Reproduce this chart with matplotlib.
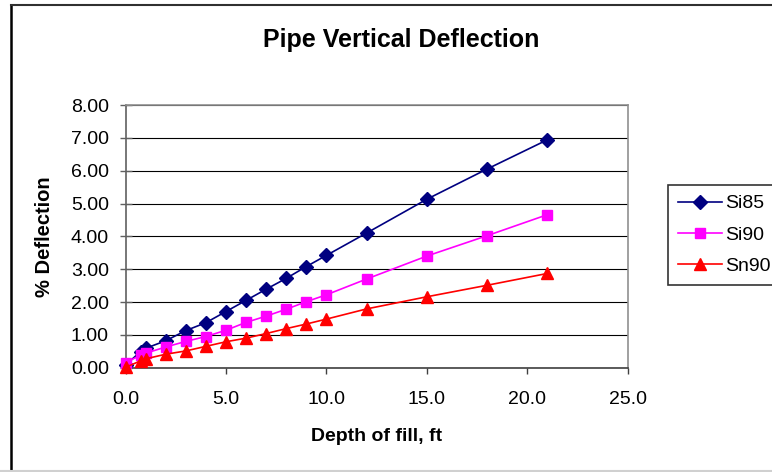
import matplotlib
matplotlib.use("Agg")
import matplotlib.pyplot as plt
from matplotlib.lines import Line2D

plt.rcParams['font.family'] = ['Liberation Sans', 'DejaVu Sans']

# depth of fill (ft) and % deflection
depth = [0, 0.75, 1, 2, 3, 4, 5, 6, 7, 8, 9, 10, 12, 15, 18, 21]
si85 = [0.08, 0.49, 0.59, 0.82, 1.13, 1.37, 1.71, 2.05, 2.39, 2.72, 3.08, 3.42, 4.10, 5.13, 6.05, 6.94]
si90 = [0.15, 0.38, 0.44, 0.63, 0.80, 0.95, 1.14, 1.38, 1.57, 1.78, 2.01, 2.22, 2.70, 3.40, 4.02, 4.66]
sn90 = [0.01, 0.21, 0.27, 0.41, 0.51, 0.65, 0.79, 0.90, 1.04, 1.19, 1.33, 1.48, 1.79, 2.16, 2.51, 2.87]

series = [('Si85', si85, '#000080', 'D', 7),
          ('Si90', si90, '#FF00FF', 's', 6.5),
          ('Sn90', sn90, '#FF0000', '^', 8)]

xticks = [0, 5, 10, 15, 20, 25]
yticks = [0, 1, 2, 3, 4, 5, 6, 7, 8]

W, H = 772, 472
fig = plt.figure(figsize=(W / 100, H / 100), dpi=100)
fig.patch.set_facecolor('white')
ax = fig.add_axes([125.5 / W, 1 - 367.7 / H, (627.7 - 125.5) / W, (367.7 - 105) / H])

for name, vals, col, mk, ms in series:
    ax.plot(depth, vals, color=col, lw=1.2, marker=mk, markersize=ms,
            markerfacecolor=col, markeredgecolor=col, label=name, clip_on=False, zorder=3)

ax.set_xlim(0, 25)
ax.set_ylim(0, 8)
ax.set_xticks(xticks)
ax.set_xticklabels([f'{v:.1f}' for v in xticks])
ax.set_yticks(yticks)
ax.set_yticklabels([f'{v:.2f}' for v in yticks])
ax.grid(axis='y', color='black', lw=0.8)
ax.set_axisbelow(True)

for s in ['top', 'right']:
    ax.spines[s].set_color('#909090')
    ax.spines[s].set_linewidth(1.2)
ax.spines['left'].set_color('#606060')
ax.spines['bottom'].set_color('#404040')
ax.spines['left'].set_linewidth(1.2)
ax.spines['bottom'].set_linewidth(1.2)

ax.tick_params(axis='x', direction='out', length=4.5, width=1, color='#404040', pad=12, labelsize=14)
ax.tick_params(axis='y', direction='inout', length=8, width=1, color='#606060', pad=8, labelsize=14)

ax.set_xlabel('Depth of fill, ft', fontsize=14, fontweight='bold', labelpad=15)
ax.set_ylabel('% Deflection', fontsize=14.5, fontweight='bold', labelpad=12)

fig.text(401 / W, 1 - 40 / H, 'Pipe Vertical Deflection', ha='center', va='center',
         fontsize=18, fontweight='bold')

leg = fig.legend(loc='upper left', bbox_to_anchor=(668 / W, 1 - 185 / H), fontsize=14,
                 frameon=True, fancybox=False, edgecolor='black', handlelength=2.3,
                 handletextpad=0.15, labelspacing=0.7, borderpad=0.5, borderaxespad=0)
leg.get_frame().set_linewidth(1.2)

# chart area border (cut off at the right)
fig.add_artist(Line2D([11 / W, 11 / W], [0, 1 - 4.5 / H], transform=fig.transFigure, color='black', lw=1.8))
fig.add_artist(Line2D([11 / W, 1], [1 - 4.5 / H, 1 - 4.5 / H], transform=fig.transFigure, color='#303030', lw=1.5))
fig.add_artist(Line2D([0, 1], [1 - 471 / H, 1 - 471 / H], transform=fig.transFigure, color='#d0d0d0', lw=1.5))

fig.savefig('out.png', dpi=100)
